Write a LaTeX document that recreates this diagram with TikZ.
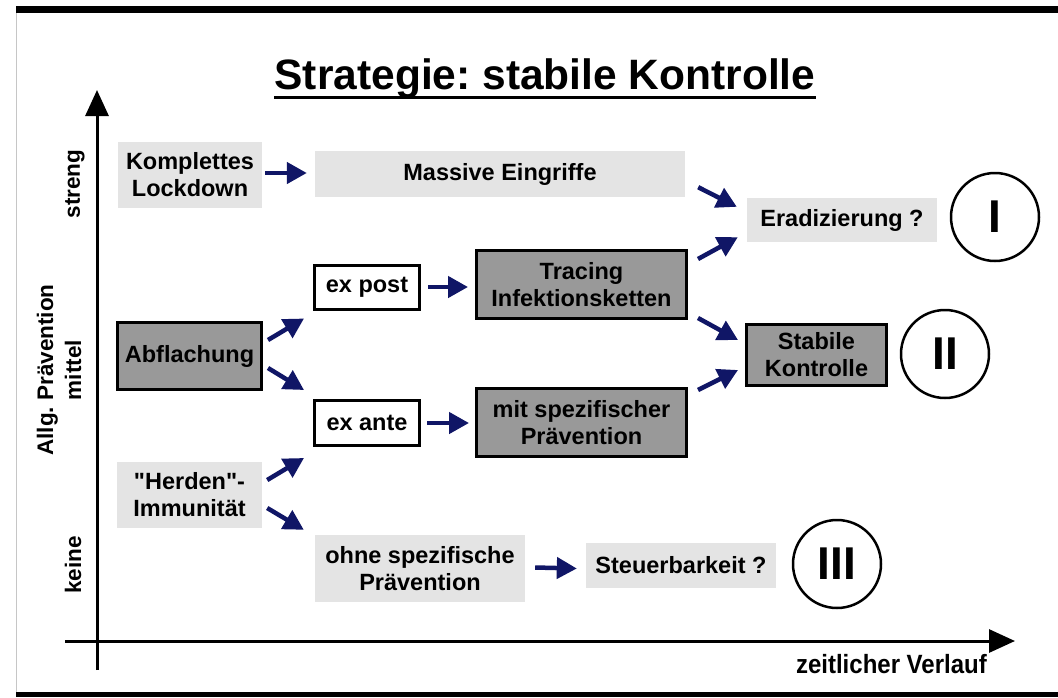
\documentclass[tikz,border=0pt]{standalone}
\usepackage{fontspec}
\setmainfont{Liberation Sans}[Ligatures=TeXOff]
\usetikzlibrary{arrows.meta,calc}
\definecolor{boxlight}{RGB}{228,228,228}
\definecolor{boxdark}{RGB}{153,153,153}
\definecolor{arrownavy}{RGB}{16,22,102}
\frenchspacing

\begin{document}
\begin{tikzpicture}[x=1pt,y=-1pt,
  txt/.style={font=\fontsize{23.5}{27}\selectfont\bfseries, align=center, inner sep=0pt},
  lightbox/.style={txt, fill=boxlight},
  darkbox/.style={txt, fill=boxdark, draw=black, line width=3pt},
  whitebox/.style={txt, fill=white, draw=black, line width=3pt},
  phase/.style={circle, draw=black, line width=2.5pt, minimum size=88pt, inner sep=0pt,
    font=\fontsize{46}{46}\selectfont\bfseries},
  flow/.style={draw=arrownavy, fill=arrownavy, line width=4.5pt, -{Triangle[length=20pt,width=21pt]}},
  axis/.style={line width=3pt, -{Triangle[length=26pt,width=23pt]}},
  axlabel/.style={font=\fontsize{22.5}{28}\selectfont\bfseries, align=center, inner sep=0pt, rotate=90}
]
\useasboundingbox (0,0) rectangle (1058,697);
\fill[white] (0,0) rectangle (1058,697);

% frame bands
\fill[black] (16,6) rectangle (1058,13);
\fill[black] (16,692) rectangle (1058,697);
\draw[gray!45, line width=1pt] (16,13) -- (16,692);

% title
\node[font=\fontsize{42.5}{42.5}\selectfont\bfseries, inner sep=0pt, anchor=base] (title) at (545,89)
  {Strategie: stabile Kontrolle};
\draw[line width=3pt] ([shift={(0,8)}]title.base west) -- ([shift={(0,8)}]title.base east);

% axes
\coordinate (ybot) at (97,670);
\coordinate (ytop) at (97,90);
\coordinate (xleft) at (65,641);
\coordinate (xright) at (1015,641);
\draw[axis] (ybot) -- (ytop);
\draw[axis] (xleft) -- (xright);

\node[axlabel] (streng) at (75,184) {streng};
\node[axlabel] (mittel) at (59,370) {Allg. Prävention\\mittel};
\node[axlabel] (keine) at (73,565) {keine};
\node[font=\fontsize{24}{26}\selectfont\bfseries, inner sep=0pt, anchor=base east, yscale=1.1] (zeit) at (987,673)
  {zeitlicher Verlauf};

% boxes
\node[lightbox, minimum width=144pt, minimum height=66pt] (lock) at (190,175) {Komplettes\\Lockdown};
\node[lightbox, minimum width=370pt, minimum height=46pt] (massive) at (500,174) {Massive Eingriffe};
\node[lightbox, minimum width=190pt, minimum height=44pt] (erad) at (842,220) {Eradizierung ?};

\node[whitebox, minimum width=105pt, minimum height=44pt] (expost) at (367,287) {ex post};
\node[darkbox, minimum width=210pt, minimum height=68pt] (tracing) at (581.5,284.5) {Tracing\\Infektionsketten};

\node[darkbox, minimum width=144pt, minimum height=67pt] (abfl) at (189.5,356) {Abflachung};
\node[darkbox, minimum width=140pt, minimum height=61pt] (stabile) at (816.5,355) {Stabile\\Kontrolle};

\node[whitebox, minimum width=105pt, minimum height=45pt] (exante) at (367,423) {ex ante};
\node[darkbox, minimum width=210pt, minimum height=68pt] (mitspez) at (581.5,422.5) {mit spezifischer\\Prävention};

\node[lightbox, minimum width=145pt, minimum height=66pt] (herden) at (189.5,495) {"Herden"-\\Immunität};
\node[lightbox, minimum width=210pt, minimum height=67pt] (ohne) at (420,568.5) {ohne spezifische\\Prävention};
\node[lightbox, minimum width=190pt, minimum height=45pt] (steuer) at (681,565.5) {Steuerbarkeit ?};

% phase circles
\node[phase] (p1) at (995,217) {I};
\node[phase] (p2) at (945,354) {II};
\node[phase] (p3) at (837,564) {III};

% flow arrows
\draw[flow] ([shift={(3,-2)}]lock.east) -- ([shift={(-8,-1)}]massive.west);
\draw[flow] ([shift={(13,-10)}]massive.south east) -- ([shift={(-10,9)}]erad.north west);
\draw[flow] ([shift={(10,10)}]tracing.north east) -- ([shift={(-9,-5)}]erad.south west);
\draw[flow] ([shift={(10,-2)}]tracing.south east) -- ([shift={(-7,17)}]stabile.north west);
\draw[flow] ([shift={(10,3)}]mitspez.north east) -- ([shift={(-7,-17)}]stabile.south west);
\draw[flow] ([shift={(7,0)}]expost.east) -- ([shift={(-7,0)}]expost.east -| tracing.west);
\draw[flow] ([shift={(5,-16)}]abfl.east) -- ([shift={(-9,8)}]expost.south west);
\draw[flow] ([shift={(5,12)}]abfl.east) -- ([shift={(-9,-9)}]exante.north west);
\draw[flow] ([shift={(6,0)}]exante.east) -- ([shift={(-6,0)}]exante.east -| mitspez.west);
\draw[flow] ([shift={(5,-15)}]herden.east) -- ([shift={(-9,11)}]exante.south west);
\draw[flow] ([shift={(5,13)}]herden.east) -- ([shift={(-11,-5)}]ohne.north west);
\draw[flow] ([shift={(10,-1)}]ohne.east) -- ([shift={(-9,0)}]ohne.east -| steuer.west);
\end{tikzpicture}
\end{document}
